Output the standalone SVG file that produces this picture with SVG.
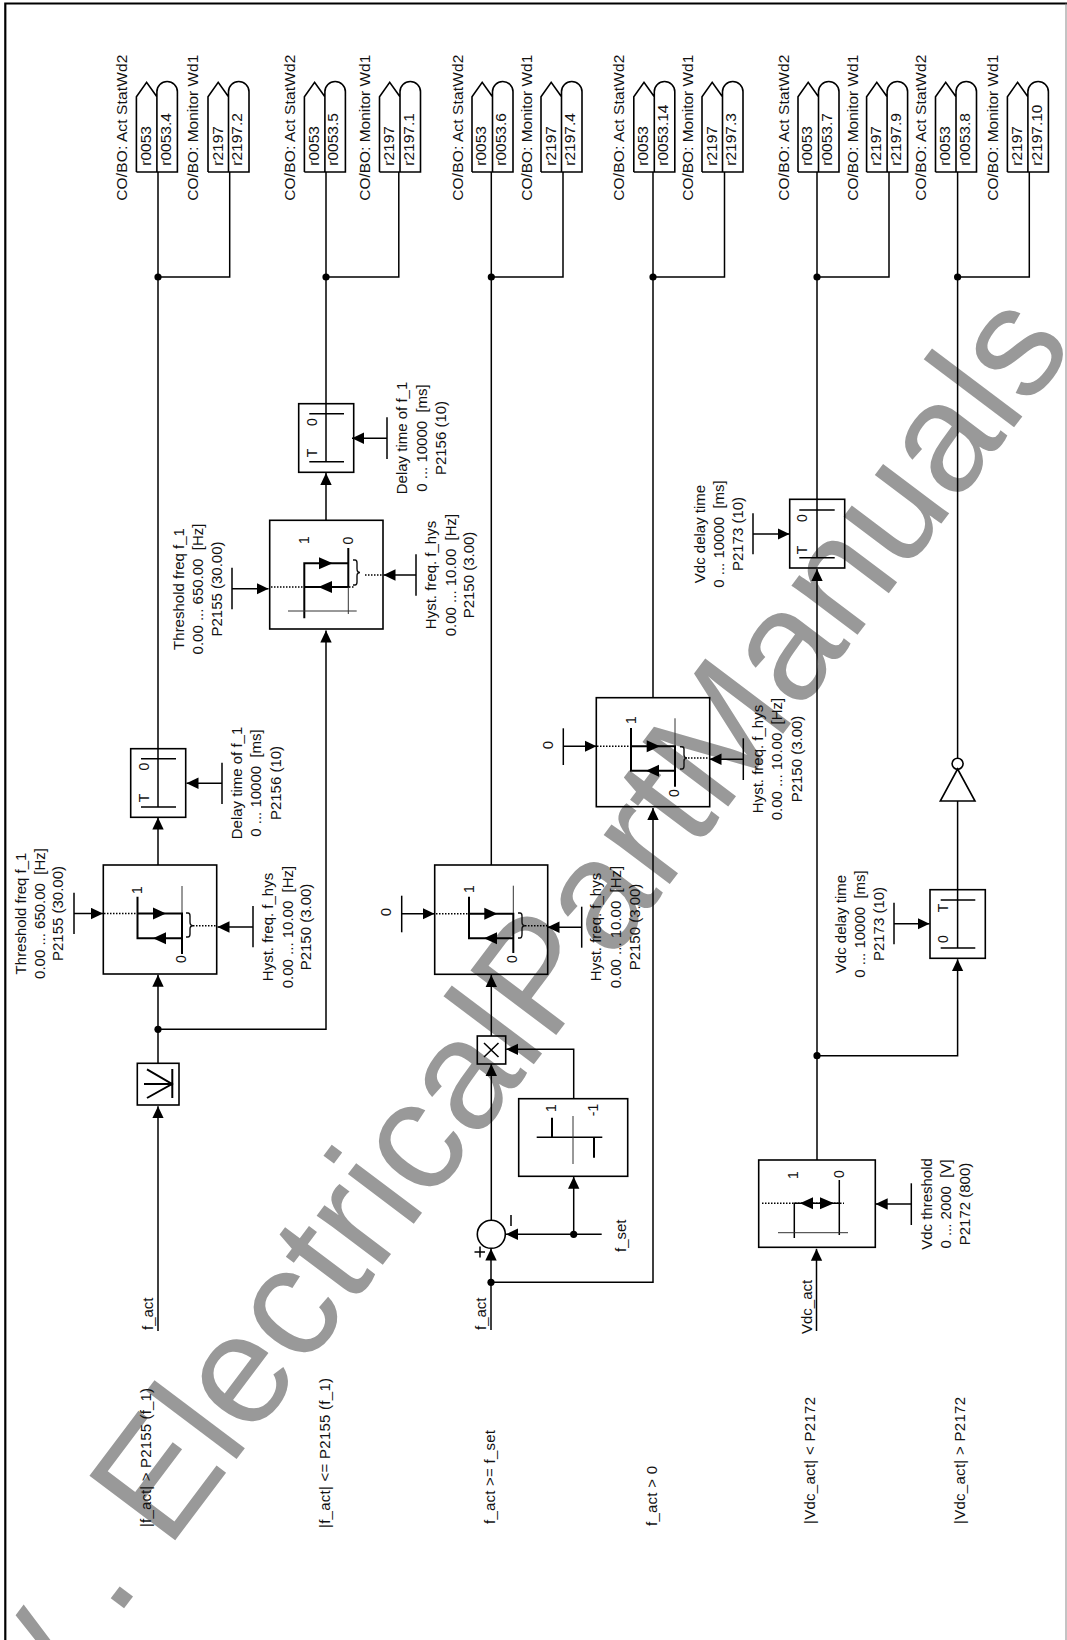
<svg xmlns="http://www.w3.org/2000/svg" xmlns:xlink="http://www.w3.org/1999/xlink" width="1067" height="1640" viewBox="0 0 1067 1640">
<style>
text{font-family:"Liberation Sans",Arial,sans-serif;font-size:15px;fill:#111}
.m{text-anchor:middle}
.i{font-size:14px;text-anchor:middle}
.c{font-size:15.5px}
.wm{font-size:156px;fill:#999}
.b,.l{fill:none;stroke:#000;stroke-width:1.6}
.l{stroke-width:1.5}
.x{fill:none;stroke:#333;stroke-width:1}
.br{fill:none;stroke:#111;stroke-width:1.4}
.h{fill:none;stroke:#000;stroke-width:2}
.d{fill:none;stroke:#000;stroke-width:1.5;stroke-dasharray:1.5 1.5}
.a{marker-end:url(#arr)}
.j{fill:#000}
</style>
<defs>
<marker id="arr" markerUnits="userSpaceOnUse" markerWidth="12" markerHeight="12" refX="12" refY="6" orient="auto"><path d="M0,0.3L12,6L0,11.7Z" fill="#000"/></marker>
<g id="cp"><path class="b" d="M0,0H41V-80.3A10.25,10.25 0 0 0 20.5,-80.3V0M0,0V-75.3L10.2,-89.7L20.5,-75.3"/></g>
</defs>
<text class="wm" transform="translate(21.5,1744.4) rotate(-53)">w . ElectricalPartManuals</text>
<path id="frame" d="M5.3,1640V3.5H1067" fill="none" stroke="#000" stroke-width="2.2"/>
<path d="M1066,3.5V1640" stroke="#888" stroke-width="1"/>

<g id="connectors">
<path class="l" d="M158,172V748.7M158,277H229.7V172M326,172V403.7M326,277H398.8V172M491.3,172V865M491.3,277H563V172M653,172V697.7M653,277H724.5V172M817,172V499M817,277H889V172M957.6,172V758M957.6,277H1029.3V172"/>
<path class="l a" d="M158,865V817.5"/>
<path class="l a" d="M158,1063.3V974.7"/>
<path class="l a" d="M158,1331V1106.2"/>
<path class="l a" d="M158,1029.3H326V630.5"/>
<path class="l a" d="M326,520.3V473"/>
<path class="l a" d="M491.3,1036V975"/>
<path class="l a" d="M491.3,1220.3V1064"/>
<path class="l a" d="M491,1330V1248.6"/>
<path class="l a" d="M491,1282.3H653V808"/>
<path class="l a" d="M601.7,1234.3H506"/>
<path class="l a" d="M573.7,1234.3V1176.8"/>
<path class="l a" d="M573.7,1098.7V1049.3H506.2"/>
<path class="l a" d="M817,1160V569"/>
<path class="l a" d="M816.5,1331V1248.8"/>
<path class="l a" d="M817,1055.7H957.6V959.2"/>
<path class="l" d="M957.6,889.7V801"/>
<circle class="j" cx="158" cy="277" r="3.6"/><circle class="j" cx="326" cy="277" r="3.6"/><circle class="j" cx="491.3" cy="277" r="3.6"/><circle class="j" cx="653" cy="277" r="3.6"/><circle class="j" cx="817" cy="277" r="3.6"/><circle class="j" cx="957.6" cy="277" r="3.6"/>
<circle class="j" cx="158" cy="1029.3" r="3.6"/><circle class="j" cx="573.7" cy="1234.3" r="3.6"/><circle class="j" cx="491" cy="1282.3" r="3.6"/><circle class="j" cx="817" cy="1055.7" r="3.6"/>
<path class="l a" d="M74,913.5H103"/><path class="l" d="M74,892.7V934"/>
<path class="l a" d="M253,927H217.5"/><path class="l" d="M253,906V947.3"/>
<path class="l a" d="M222,783.3H186.5"/><path class="l" d="M222,762.7V804"/>
<path class="l a" d="M232,588.7H268.5"/><path class="l" d="M232,567.7V609.3"/>
<path class="l a" d="M416,575H383.5"/><path class="l" d="M416,554.3V595.7"/>
<path class="l a" d="M387,438.3H352"/><path class="l" d="M387,417.3V459"/>
<path class="l a" d="M401.7,913.7H434.5"/><path class="l" d="M401.7,895.7V932.3"/>
<path class="l a" d="M581.7,927.3H547.5"/><path class="l" d="M581.7,906.7V947.7"/>
<path class="l a" d="M563.3,746.3H596.5"/><path class="l" d="M563.3,728.3V765"/>
<path class="l a" d="M743.3,759.3H709.5"/><path class="l" d="M743.3,738.3V780"/>
<path class="l a" d="M753,534H789.5"/><path class="l" d="M753,513.3V554.3"/>
<path class="l a" d="M894,923.7H929.5"/><path class="l" d="M894,902.7V944.3"/>
<path class="l a" d="M911.3,1204H875.7"/><path class="l" d="M911.3,1183.3V1225"/>
</g>

<g id="out-1">
<use xlink:href="#cp" transform="translate(136.4,172)"/><use xlink:href="#cp" transform="translate(208,172)"/>
<text class="c" textLength="146" transform="translate(127,200.7) rotate(-90)">CO/BO: Act StatWd2</text>
<text class="c" textLength="146" transform="translate(198,200.7) rotate(-90)">CO/BO: Monitor Wd1</text>
<text class="c" transform="translate(150.8,165.7) rotate(-90)">r0053</text><text class="c" transform="translate(170.5,165.7) rotate(-90)">r0053.4</text>
<text class="c" transform="translate(222.5,165.7) rotate(-90)">r2197</text><text class="c" transform="translate(242,165.7) rotate(-90)">r2197.2</text>
</g>
<g id="out-2">
<use xlink:href="#cp" transform="translate(304.4,172)"/><use xlink:href="#cp" transform="translate(379.5,172)"/>
<text class="c" textLength="146" transform="translate(295,200.7) rotate(-90)">CO/BO: Act StatWd2</text>
<text class="c" textLength="146" transform="translate(370,200.7) rotate(-90)">CO/BO: Monitor Wd1</text>
<text class="c" transform="translate(318.6,165.7) rotate(-90)">r0053</text><text class="c" transform="translate(338,165.7) rotate(-90)">r0053.5</text>
<text class="c" transform="translate(394,165.7) rotate(-90)">r2197</text><text class="c" transform="translate(413.5,165.7) rotate(-90)">r2197.1</text>
</g>
<g id="out-3">
<use xlink:href="#cp" transform="translate(472,172)"/><use xlink:href="#cp" transform="translate(541,172)"/>
<text class="c" textLength="146" transform="translate(463,200.7) rotate(-90)">CO/BO: Act StatWd2</text>
<text class="c" textLength="146" transform="translate(532,200.7) rotate(-90)">CO/BO: Monitor Wd1</text>
<text class="c" transform="translate(486.4,165.7) rotate(-90)">r0053</text><text class="c" transform="translate(506,165.7) rotate(-90)">r0053.6</text>
<text class="c" transform="translate(555.5,165.7) rotate(-90)">r2197</text><text class="c" transform="translate(575,165.7) rotate(-90)">r2197.4</text>
</g>
<g id="out-4">
<use xlink:href="#cp" transform="translate(633.8,172)"/><use xlink:href="#cp" transform="translate(702,172)"/>
<text class="c" textLength="146" transform="translate(624.2,200.7) rotate(-90)">CO/BO: Act StatWd2</text>
<text class="c" textLength="146" transform="translate(692.7,200.7) rotate(-90)">CO/BO: Monitor Wd1</text>
<text class="c" transform="translate(648,165.7) rotate(-90)">r0053</text><text class="c" transform="translate(667.5,165.7) rotate(-90)">r0053.14</text>
<text class="c" transform="translate(716.5,165.7) rotate(-90)">r2197</text><text class="c" transform="translate(736,165.7) rotate(-90)">r2197.3</text>
</g>
<g id="out-5">
<use xlink:href="#cp" transform="translate(798,172)"/><use xlink:href="#cp" transform="translate(866.6,172)"/>
<text class="c" textLength="146" transform="translate(789,200.7) rotate(-90)">CO/BO: Act StatWd2</text>
<text class="c" textLength="146" transform="translate(858,200.7) rotate(-90)">CO/BO: Monitor Wd1</text>
<text class="c" transform="translate(812.4,165.7) rotate(-90)">r0053</text><text class="c" transform="translate(832,165.7) rotate(-90)">r0053.7</text>
<text class="c" transform="translate(881,165.7) rotate(-90)">r2197</text><text class="c" transform="translate(900.5,165.7) rotate(-90)">r2197.9</text>
</g>
<g id="out-6">
<use xlink:href="#cp" transform="translate(935.5,172)"/><use xlink:href="#cp" transform="translate(1007.4,172)"/>
<text class="c" textLength="146" transform="translate(926,200.7) rotate(-90)">CO/BO: Act StatWd2</text>
<text class="c" textLength="146" transform="translate(998,200.7) rotate(-90)">CO/BO: Monitor Wd1</text>
<text class="c" transform="translate(950,165.7) rotate(-90)">r0053</text><text class="c" transform="translate(969.5,165.7) rotate(-90)">r0053.8</text>
<text class="c" transform="translate(1022,165.7) rotate(-90)">r2197</text><text class="c" transform="translate(1041.5,165.7) rotate(-90)">r2197.10</text>
</g>

<g id="delay-1">
<rect class="b" x="130.7" y="748.7" width="55" height="68.6"/>
<path class="l" d="M141,758.7H176M141,807H176M158,748.7V807"/>
<text class="i" transform="translate(149,766.7) rotate(-90)">0</text><text class="i" transform="translate(149,798) rotate(-90)">T</text>
</g>
<g id="delay-2">
<rect class="b" x="298.7" y="403.7" width="55" height="68.6"/>
<path class="l" d="M309.3,413.7H344M309.3,461.7H344M326,403.7V461.7"/>
<text class="i" transform="translate(316.7,422) rotate(-90)">0</text><text class="i" transform="translate(316.7,453) rotate(-90)">T</text>
</g>
<g id="delay-3">
<rect class="b" x="789.7" y="499.3" width="55" height="68.7"/>
<path class="l" d="M799.3,510H834.7M799.3,557.7H834.7M817,499V557.7"/>
<text class="i" transform="translate(807,518) rotate(-90)">0</text><text class="i" transform="translate(807,550) rotate(-90)">T</text>
</g>
<g id="delay-4">
<rect class="b" x="930" y="889.7" width="55.3" height="68.6"/>
<path class="l" d="M940.7,900H975.3M940.7,948H975.3M957.6,889.7V948"/>
<text class="i" transform="translate(948,908) rotate(-90)">T</text><text class="i" transform="translate(948,939) rotate(-90)">0</text>
</g>

<g id="abs">
<rect class="b" x="137.3" y="1063.3" width="41.7" height="41.7"/>
<path class="h" d="M172.3,1069V1098M144,1084H172M147,1069.3L172,1084L147,1098"/>
</g>

<g id="hyst-1">
<rect class="b" x="103.3" y="865" width="113.4" height="109"/>
<path class="d" d="M104,913.5H137.5M193,925.7H217"/>
<path class="x" d="M182,886V913"/>
<path class="h" d="M137.5,896.7V938.3H182M137.5,913.5H182V954"/>
<path class="j" d="M153,907.5L166,913.5L153,919.5ZM166,932.3L153,938.3L166,944.3Z"/>
<path class="br" d="M186,913H188Q190,913 190,916V922Q190,925.7 193,925.7Q190,925.7 190,929V934Q190,937 188,937H186"/>
<text class="i" transform="translate(142,890) rotate(-90)">1</text><text class="i" transform="translate(186,959) rotate(-90)">0</text>
</g>
<g id="hyst-2">
<rect class="b" x="269.7" y="520.3" width="113.3" height="108.7"/>
<path class="d" d="M271,587H354M365,575H383"/>
<path class="h" d="M304.3,618.3V563.3H348.3M304.3,587H348.3V548"/>
<path class="x" d="M348.3,587V614M288,611H356.7"/>
<path class="j" d="M319,557.3L332.7,563.3L319,569.3ZM332,581L318.3,587L332,593Z"/>
<path class="br" d="M353,560H355Q357,560 357,563V568.5Q357,572.5 360,572.5Q357,572.5 357,576V582Q357,585 355,585H353"/>
<text class="i" transform="translate(308.5,540) rotate(-90)">1</text><text class="i" transform="translate(352.5,540.7) rotate(-90)">0</text>
</g>
<g id="hyst-3">
<rect class="b" x="434.7" y="865" width="113" height="109.3"/>
<path class="d" d="M436,913.7H469M525,925.7H547"/>
<path class="x" d="M513.3,885.7V914"/>
<path class="h" d="M469,896.7V938.3H513.3M469,913.7H513.3V953"/>
<path class="j" d="M484.3,907.7L497.3,913.7L484.3,919.7ZM497,932.3L484,938.3L497,944.3Z"/>
<path class="br" d="M518,913H520Q522,913 522,916V922Q522,925.7 525,925.7Q522,925.7 522,929V934Q522,938 520,938H518"/>
<text class="i" transform="translate(473.5,889) rotate(-90)">1</text><text class="i" transform="translate(516.7,959) rotate(-90)">0</text>
</g>
<g id="hyst-4">
<rect class="b" x="596.3" y="697.7" width="113.4" height="109"/>
<path class="d" d="M597,746.3H631M685,758H709"/>
<path class="x" d="M675,718.3V746"/>
<path class="h" d="M631,728V770.7H675M631,746.3H675V786.7"/>
<path class="j" d="M646.7,740.3L660,746.3L646.7,752.3ZM659,764.7L646,770.7L659,776.7Z"/>
<path class="br" d="M680,746.7H682Q684,746.7 684,749V755Q684,758 687,758Q684,758 684,761V766Q684,769 682,769H680"/>
<text class="i" transform="translate(636,720) rotate(-90)">1</text><text class="i" transform="translate(679,793) rotate(-90)">0</text>
</g>
<g id="thresh">
<rect class="b" x="758.7" y="1160" width="116.6" height="87.3"/>
<path class="d" d="M762,1203.3H844"/>
<path class="l" d="M794.3,1238V1203.3H839.3V1180M839.3,1203.3V1235"/>
<path class="x" d="M778,1232.7H848"/>
<path class="j" d="M813,1197.3L800,1203.3L813,1209.3ZM820,1197.3L834,1203.3L820,1209.3Z"/>
<text class="i" transform="translate(798,1175) rotate(-90)">1</text><text class="i" transform="translate(844,1174) rotate(-90)">0</text>
</g>
<g id="sign">
<rect class="b" x="518.7" y="1098.7" width="109" height="77.6"/>
<path class="l" d="M536.7,1137.3H602.3"/>
<path class="x" d="M573,1116V1164"/>
<path class="h" d="M552,1117.7V1137.3M594,1137.3V1157.7"/>
<text class="i" transform="translate(556,1108) rotate(-90)">1</text><text class="i" transform="translate(598,1110) rotate(-90)">-1</text>
</g>
<g id="mult">
<rect class="b" x="477.3" y="1036" width="28.4" height="28"/>
<path class="l" d="M484,1043L498.5,1057M498.5,1043L484,1057"/>
</g>
<g id="sum">
<circle class="b" cx="491.3" cy="1234.3" r="14"/>
<path class="l" d="M511,1215V1226M474.5,1252H485M480,1246.5V1257.5"/>
</g>
<g id="inv">
<circle class="b" cx="957.6" cy="763.7" r="5.5"/>
<path class="b" d="M957.6,769L975,801H940.3Z"/>
</g>

<g id="labels">
<text class="m" transform="translate(25.7,913.5) rotate(-90)">Threshold freq f_1</text>
<text class="m" xml:space="preserve" transform="translate(45,913.5) rotate(-90)">0.00 ... 650.00  [Hz]</text>
<text class="m" transform="translate(63.3,913.5) rotate(-90)">P2155 (30.00)</text>
<text class="m" transform="translate(273,927) rotate(-90)">Hyst. freq. f_hys</text>
<text class="m" xml:space="preserve" transform="translate(292.7,927) rotate(-90)">0.00 ... 10.00  [Hz]</text>
<text class="m" transform="translate(311,927) rotate(-90)">P2150 (3.00)</text>
<text class="m" transform="translate(242,783) rotate(-90)">Delay time of f_1</text>
<text class="m" xml:space="preserve" transform="translate(261,783) rotate(-90)">0 ... 10000  [ms]</text>
<text class="m" transform="translate(281,783) rotate(-90)">P2156 (10)</text>
<text class="m" transform="translate(184,589) rotate(-90)">Threshold freq f_1</text>
<text class="m" xml:space="preserve" transform="translate(203.3,589) rotate(-90)">0.00 ... 650.00  [Hz]</text>
<text class="m" transform="translate(221.7,589) rotate(-90)">P2155 (30.00)</text>
<text class="m" transform="translate(436,575) rotate(-90)">Hyst. freq. f_hys</text>
<text class="m" xml:space="preserve" transform="translate(455.7,575) rotate(-90)">0.00 ... 10.00  [Hz]</text>
<text class="m" transform="translate(474,575) rotate(-90)">P2150 (3.00)</text>
<text class="m" transform="translate(407,438) rotate(-90)">Delay time of f_1</text>
<text class="m" xml:space="preserve" transform="translate(426.5,438) rotate(-90)">0 ... 10000  [ms]</text>
<text class="m" transform="translate(446,438) rotate(-90)">P2156 (10)</text>
<text class="m" transform="translate(391,912) rotate(-90)">0</text>
<text class="m" transform="translate(552.7,745) rotate(-90)">0</text>
<text class="m" transform="translate(600.7,927) rotate(-90)">Hyst. freq. f_hys</text>
<text class="m" xml:space="preserve" transform="translate(620.7,927) rotate(-90)">0.00 ... 10.00  [Hz]</text>
<text class="m" transform="translate(640,927) rotate(-90)">P2150 (3.00)</text>
<text class="m" transform="translate(763.3,759) rotate(-90)">Hyst. freq. f_hys</text>
<text class="m" xml:space="preserve" transform="translate(782.3,759) rotate(-90)">0.00 ... 10.00  [Hz]</text>
<text class="m" transform="translate(801.7,759) rotate(-90)">P2150 (3.00)</text>
<text class="m" transform="translate(705,534) rotate(-90)">Vdc delay time</text>
<text class="m" xml:space="preserve" transform="translate(724.3,534) rotate(-90)">0 ... 10000  [ms]</text>
<text class="m" transform="translate(742.7,534) rotate(-90)">P2173 (10)</text>
<text class="m" transform="translate(846,924) rotate(-90)">Vdc delay time</text>
<text class="m" xml:space="preserve" transform="translate(865,924) rotate(-90)">0 ... 10000  [ms]</text>
<text class="m" transform="translate(884,924) rotate(-90)">P2173 (10)</text>
<text class="m" transform="translate(931.7,1204) rotate(-90)">Vdc threshold</text>
<text class="m" xml:space="preserve" transform="translate(951,1204) rotate(-90)">0 ... 2000  [V]</text>
<text class="m" transform="translate(970,1204) rotate(-90)">P2172 (800)</text>
<text transform="translate(625.7,1252) rotate(-90)">f_set</text>
<text transform="translate(153,1330) rotate(-90)">f_act</text>
<text transform="translate(486,1330) rotate(-90)">f_act</text>
<text transform="translate(811.6,1334) rotate(-90)">Vdc_act</text>
<text textLength="139" transform="translate(151,1527) rotate(-90)">|f_act| &gt; P2155 (f_1)</text>
<text textLength="150" transform="translate(330,1528) rotate(-90)">|f_act| &lt;= P2155 (f_1)</text>
<text textLength="94" transform="translate(494.5,1524) rotate(-90)">f_act &gt;= f_set</text>
<text textLength="60" transform="translate(656.5,1526) rotate(-90)">f_act &gt; 0</text>
<text textLength="127" transform="translate(815,1524) rotate(-90)">|Vdc_act| &lt; P2172</text>
<text textLength="127" transform="translate(964.6,1524) rotate(-90)">|Vdc_act| &gt; P2172</text>
</g>
</svg>
